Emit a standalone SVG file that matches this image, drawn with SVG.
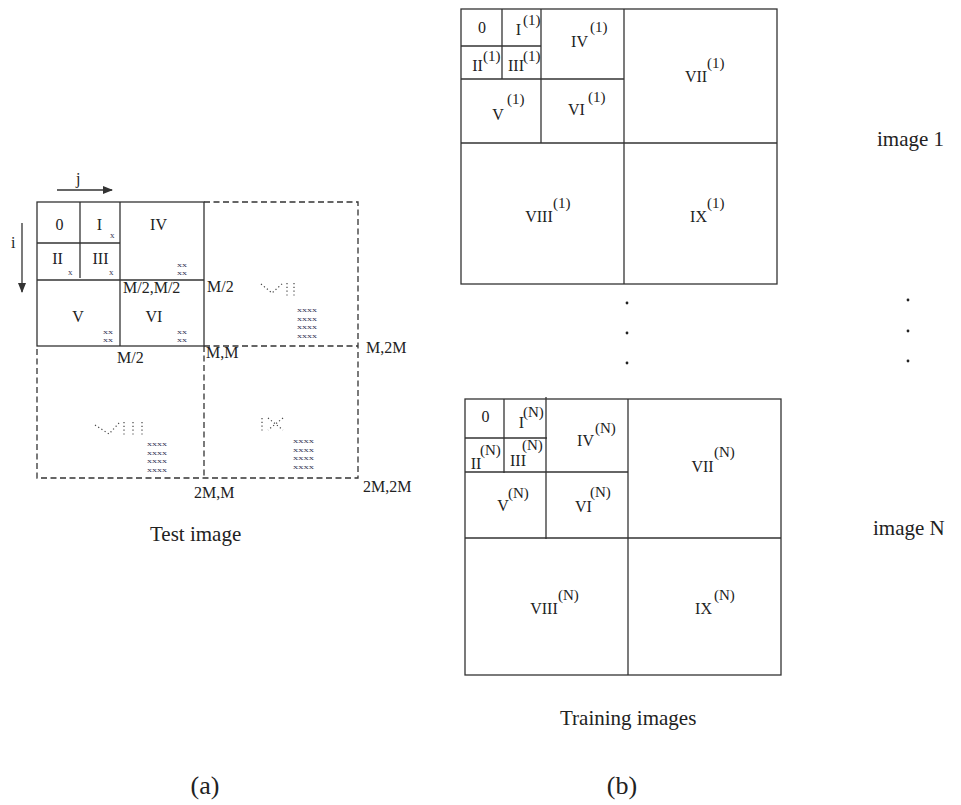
<svg xmlns="http://www.w3.org/2000/svg" width="961" height="805" viewBox="0 0 961 805">
<style>
  .ln{stroke:#333;stroke-width:1.3;fill:none}
  .ds{stroke:#333;stroke-width:1.3;fill:none;stroke-dasharray:6 3.5}
  .dt{stroke:#444;stroke-width:1.2;fill:none;stroke-dasharray:1.2 2.6}
  text{font-family:"Liberation Serif","Times New Roman",serif;fill:#222}
  .m{font-size:16px;text-anchor:middle}
  .s{font-size:15px}
  .l{font-size:16px}
  .x{font-size:9px;fill:#3a3a58}
  .xs{font-size:7px;fill:#3a3a58}
  .cap{font-size:21px}
  .sub{font-size:26px;text-anchor:middle}
</style>
<defs>
  <marker id="ah" markerWidth="10" markerHeight="8" refX="9" refY="4" orient="auto" markerUnits="userSpaceOnUse">
    <path d="M0,0 L10,4 L0,8 Z" fill="#333"/>
  </marker>
</defs>
<rect width="961" height="805" fill="#fff"/>

<!-- (a) Test image -->
<g id="test-image">
  <rect class="ln" x="37" y="202" width="167" height="144"/>
  <line class="ln" x1="37" y1="280" x2="204" y2="280"/>
  <line class="ln" x1="120" y1="202" x2="120" y2="346"/>
  <line class="ln" x1="37" y1="243" x2="120" y2="243"/>
  <line class="ln" x1="80" y1="202" x2="80" y2="278"/>
  <path class="ds" d="M204,202 H358 V478 H37 V346"/>
  <line class="ds" x1="204" y1="346" x2="358" y2="346"/>
  <line class="ds" x1="204" y1="346" x2="204" y2="478"/>
</g>
<g id="cell-0"><text class="m" x="59.5" y="230">0</text></g>
<g id="cell-I"><text class="m" x="99.5" y="230">I</text><text class="x" x="110" y="238">x</text></g>
<g id="cell-IV"><text class="m" x="158.5" y="230">IV</text><text class="xs" x="177" y="267" textLength="10" lengthAdjust="spacingAndGlyphs">xx</text><text class="xs" x="177" y="275" textLength="10" lengthAdjust="spacingAndGlyphs">xx</text></g>
<g id="cell-II"><text class="m" x="57.5" y="264">II</text><text class="x" x="68" y="275">x</text></g>
<g id="cell-III"><text class="m" x="100.5" y="264">III</text><text class="x" x="109" y="275">x</text></g>
<g id="cell-V"><text class="m" x="78" y="322">V</text><text class="xs" x="103" y="334" textLength="10" lengthAdjust="spacingAndGlyphs">xx</text><text class="xs" x="103" y="342" textLength="10" lengthAdjust="spacingAndGlyphs">xx</text></g>
<g id="cell-VI"><text class="m" x="154" y="322">VI</text><text class="xs" x="177" y="334" textLength="10" lengthAdjust="spacingAndGlyphs">xx</text><text class="xs" x="177" y="342" textLength="10" lengthAdjust="spacingAndGlyphs">xx</text></g>
<g id="cell-VII">
  <path class="dt" d="M261,284 L272,293 L283,283"/>
  <line class="dt" x1="287" y1="283" x2="287" y2="297"/>
  <line class="dt" x1="294" y1="283" x2="294" y2="297"/>
  <text class="xs" x="297" y="312" textLength="20" lengthAdjust="spacingAndGlyphs">xxxx</text><text class="xs" x="297" y="320.5" textLength="20" lengthAdjust="spacingAndGlyphs">xxxx</text><text class="xs" x="297" y="329" textLength="20" lengthAdjust="spacingAndGlyphs">xxxx</text><text class="xs" x="297" y="337.5" textLength="20" lengthAdjust="spacingAndGlyphs">xxxx</text>
</g>
<g id="cell-VIII">
  <path class="dt" d="M95,425 L109,434 L119,423"/>
  <line class="dt" x1="124" y1="422" x2="124" y2="437"/>
  <line class="dt" x1="133" y1="422" x2="133" y2="437"/>
  <line class="dt" x1="142" y1="422" x2="142" y2="437"/>
  <text class="xs" x="147" y="446" textLength="20" lengthAdjust="spacingAndGlyphs">xxxx</text><text class="xs" x="147" y="454.5" textLength="20" lengthAdjust="spacingAndGlyphs">xxxx</text><text class="xs" x="147" y="463" textLength="20" lengthAdjust="spacingAndGlyphs">xxxx</text><text class="xs" x="147" y="471.5" textLength="20" lengthAdjust="spacingAndGlyphs">xxxx</text>
</g>
<g id="cell-IX">
  <line class="dt" x1="262" y1="418" x2="262" y2="431"/>
  <path class="dt" d="M268,418 L283,430 M283,418 L268,430"/>
  <text class="xs" x="293" y="443" textLength="21" lengthAdjust="spacingAndGlyphs">xxxx</text><text class="xs" x="293" y="451.5" textLength="21" lengthAdjust="spacingAndGlyphs">xxxx</text><text class="xs" x="293" y="460" textLength="21" lengthAdjust="spacingAndGlyphs">xxxx</text><text class="xs" x="293" y="468.5" textLength="21" lengthAdjust="spacingAndGlyphs">xxxx</text>
</g>
<g id="coord-labels">
  <text class="l" x="123" y="293">M/2,M/2</text>
  <text class="l" x="207" y="292">M/2</text>
  <text class="l" x="117" y="363">M/2</text>
  <text class="l" x="206" y="358">M,M</text>
  <text class="l" x="366" y="353">M,2M</text>
  <text class="l" x="363" y="492">2M,2M</text>
  <text class="l" x="194" y="498">2M,M</text>
</g>
<g id="axis-labels">
  <text class="l" x="76" y="184">j</text>
  <text class="l" x="11" y="248">i</text>
</g>
<g id="test-caption"><text class="cap" x="150" y="541">Test image</text></g>

<!-- (b) Training image 1 -->
<g id="training-image-1">
  <rect class="ln" x="461" y="9" width="316" height="275"/>
  <line class="ln" x1="624" y1="9" x2="624" y2="284"/>
  <line class="ln" x1="461" y1="143" x2="777" y2="143"/>
  <line class="ln" x1="541" y1="9" x2="541" y2="143"/>
  <line class="ln" x1="461" y1="79" x2="624" y2="79"/>
  <line class="ln" x1="502" y1="9" x2="502" y2="79"/>
  <line class="ln" x1="461" y1="46" x2="541" y2="46"/>
</g>
<g id="img1-0"><text class="m" x="482" y="33">0</text></g>
<g id="img1-I"><text class="m" x="518.5" y="35">I</text><text class="s" x="523" y="25">(1)</text></g>
<g id="img1-IV"><text class="m" x="579.5" y="47">IV</text><text class="s" x="590" y="32">(1)</text></g>
<g id="img1-II"><text class="m" x="477.5" y="71">II</text><text class="s" x="483" y="61">(1)</text></g>
<g id="img1-III"><text class="m" x="516" y="71">III</text><text class="s" x="523" y="61">(1)</text></g>
<g id="img1-V"><text class="m" x="498" y="120">V</text><text class="s" x="507" y="104">(1)</text></g>
<g id="img1-VI"><text class="m" x="576.5" y="115">VI</text><text class="s" x="588" y="102">(1)</text></g>
<g id="img1-VII"><text class="m" x="696" y="82">VII</text><text class="s" x="707" y="68">(1)</text></g>
<g id="img1-VIII"><text class="m" x="539" y="222">VIII</text><text class="s" x="553" y="208">(1)</text></g>
<g id="img1-IX"><text class="m" x="698.5" y="222">IX</text><text class="s" x="707" y="208">(1)</text></g>
<g id="label-image-1"><text class="cap" x="877" y="146">image  1</text></g>

<!-- ellipsis dots -->
<g id="ellipsis">
  <circle cx="627" cy="303" r="1.4" fill="#222"/>
  <circle cx="627" cy="333" r="1.4" fill="#222"/>
  <circle cx="627" cy="363" r="1.4" fill="#222"/>
  <circle cx="908" cy="300" r="1.4" fill="#222"/>
  <circle cx="908" cy="331" r="1.4" fill="#222"/>
  <circle cx="908" cy="361" r="1.4" fill="#222"/>
</g>

<!-- Training image N -->
<g id="training-image-N">
  <rect class="ln" x="465" y="399" width="316" height="276"/>
  <line class="ln" x1="628" y1="399" x2="628" y2="675"/>
  <line class="ln" x1="465" y1="538" x2="781" y2="538"/>
  <line class="ln" x1="546" y1="397" x2="546" y2="539"/>
  <line class="ln" x1="465" y1="472" x2="628" y2="472"/>
  <line class="ln" x1="504" y1="399" x2="504" y2="473"/>
  <line class="ln" x1="465" y1="438" x2="547" y2="438"/>
</g>
<g id="imgN-0"><text class="m" x="485.5" y="422">0</text></g>
<g id="imgN-I"><text class="m" x="521.5" y="428">I</text><text class="s" x="523" y="417">(N)</text></g>
<g id="imgN-IV"><text class="m" x="585.5" y="446">IV</text><text class="s" x="595" y="433">(N)</text></g>
<g id="imgN-II"><text class="m" x="476" y="469">II</text><text class="s" x="480" y="455">(N)</text></g>
<g id="imgN-III"><text class="m" x="518" y="466">III</text><text class="s" x="522" y="450">(N)</text></g>
<g id="imgN-V"><text class="m" x="503" y="511">V</text><text class="s" x="508" y="498">(N)</text></g>
<g id="imgN-VI"><text class="m" x="583.5" y="512">VI</text><text class="s" x="590" y="497">(N)</text></g>
<g id="imgN-VII"><text class="m" x="702.5" y="472">VII</text><text class="s" x="714" y="457">(N)</text></g>
<g id="imgN-VIII"><text class="m" x="544" y="614">VIII</text><text class="s" x="558" y="600">(N)</text></g>
<g id="imgN-IX"><text class="m" x="703.5" y="614">IX</text><text class="s" x="714" y="600">(N)</text></g>
<g id="label-image-N"><text class="cap" x="873" y="535">image   N</text></g>
<g id="training-caption"><text class="cap" x="560" y="725">Training images</text></g>

<g id="subcaptions">
  <text class="sub" x="205" y="794">(a)</text>
  <text class="sub" x="622" y="794">(b)</text>
</g>

<!-- connectors (axis arrows) -->
<g id="connectors">
  <line class="ln" x1="57" y1="190" x2="112" y2="190" marker-end="url(#ah)"/>
  <line class="ln" x1="22" y1="223" x2="22" y2="292" marker-end="url(#ah)"/>
</g>
</svg>
